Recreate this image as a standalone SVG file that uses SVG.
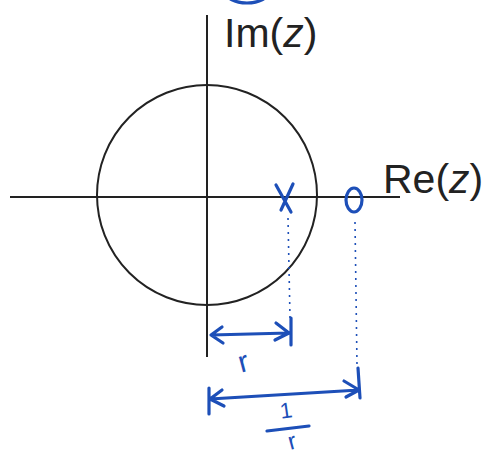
<svg xmlns="http://www.w3.org/2000/svg" width="486" height="460" viewBox="0 0 486 460">
<style>
.ax{stroke:#222;stroke-width:2;fill:none}
.lbl{font-family:"Liberation Sans",Arial,sans-serif;font-size:41px;fill:#222}
.ink{stroke:#1d4fb8;stroke-width:3.2;fill:none;stroke-linecap:round;stroke-linejoin:round}
.dot{stroke:#1d4fb8;stroke-width:1.6;fill:none;stroke-dasharray:2 5}
.hand{font-family:"Liberation Sans",Arial,sans-serif;fill:#1d4fb8}
</style>
<rect width="486" height="460" fill="#fff"/>
<g id="axes">
<line class="ax" x1="10" y1="197" x2="400" y2="197"/>
<line class="ax" x1="207" y1="15" x2="207" y2="357"/>
</g>
<g id="unit-circle"><circle class="ax" cx="207" cy="195" r="110"/></g>
<g id="im-label"><text class="lbl" x="224" y="47">Im(<tspan font-style="italic">z</tspan>)</text></g>
<g id="re-label"><text class="lbl" x="383" y="193" font-size="40">Re(<tspan font-style="italic">z</tspan>)</text></g>
<g id="top-mark"><ellipse class="ink" cx="247" cy="-9" rx="22" ry="12"/></g>
<g id="pole">
<path class="ink" d="M276 185 L291 212 M293 184 L281 210"/>
<line class="dot" x1="288" y1="218" x2="290" y2="318"/>
</g>
<g id="zero">
<ellipse class="ink" cx="354" cy="200" rx="8" ry="12"/>
<line class="dot" x1="355" y1="222" x2="357" y2="365"/>
</g>
<g id="connectors">
<g id="dim-r">
<path class="ink" d="M211 335 L289 333 M291 318 L291 345 M222 327 L211 335 L223 343 M276 323 L289 333 L275 340"/>
</g>
<g id="dim-inv-r">
<path class="ink" d="M210 399 L359 390 M209 388 L209 414 M358 368 L360 398 M222 390 L210 399 L224 406 M344 381 L359 390 L346 397"/>
</g>
</g>
<g id="label-r"><text class="hand" font-size="30" x="238" y="370" transform="rotate(-15 250 360)">r</text></g>
<g id="label-inv-r">
<text class="hand" font-size="22" x="0" y="0" text-anchor="middle" transform="translate(287 418) rotate(-8)">1</text>
<path class="ink" d="M267 431 L309 426"/>
<text class="hand" font-size="24" x="0" y="0" text-anchor="middle" transform="translate(294 449) rotate(-15)">r</text>
</g>
</svg>
